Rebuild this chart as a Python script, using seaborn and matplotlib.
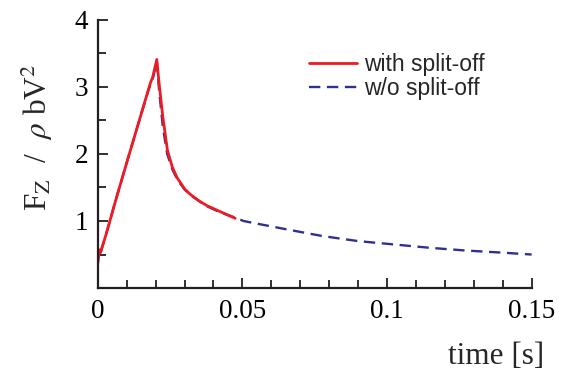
import numpy as np
import pandas as pd
import seaborn as sns
import matplotlib.pyplot as plt
from matplotlib.ticker import MultipleLocator

# with split-off (red, solid)
t_split = [0.0, 0.0005, 0.001, 0.0013, 0.003, 0.0062, 0.010, 0.014, 0.0175, 0.0182,
           0.019, 0.0204, 0.0212, 0.0225, 0.0241, 0.0258, 0.0275, 0.030, 0.0319,
           0.035, 0.0377, 0.0423, 0.0475]
f_split = [0.37, 0.57, 0.53, 0.58, 0.82, 1.31, 1.87, 2.45, 2.96, 3.06,
           3.15, 3.41, 3.05, 2.55, 2.05, 1.80, 1.64, 1.48, 1.40,
           1.30, 1.23, 1.14, 1.04]

# w/o split-off (blue, dashed)
t_nosplit = [0.0, 0.0005, 0.001, 0.0013, 0.003, 0.0062, 0.010, 0.014, 0.0175, 0.019,
             0.0204, 0.0212, 0.0225, 0.024, 0.0258, 0.0275, 0.030, 0.0319, 0.0377,
             0.0423, 0.0475, 0.0504, 0.0527, 0.0653, 0.0777, 0.090, 0.1024, 0.1148,
             0.127, 0.139, 0.15]
f_nosplit = [0.37, 0.57, 0.53, 0.58, 0.82, 1.31, 1.87, 2.45, 2.95, 3.12,
             3.38, 2.95, 2.40, 2.00, 1.77, 1.62, 1.47, 1.39, 1.22,
             1.13, 1.05, 1.00, 0.98, 0.875, 0.775, 0.70, 0.65, 0.60,
             0.56, 0.53, 0.50]

sns.set_style("ticks")
plt.rcParams['font.family'] = ['Liberation Serif', 'DejaVu Serif']
plt.rcParams['mathtext.fontset'] = 'stix'

ink = '#231f20'
fig = plt.figure(figsize=(5.62, 3.76), dpi=100)
ax = fig.add_axes([0.174, 0.234, 0.772, 0.713])

df1 = pd.DataFrame({'t': t_split, 'f': f_split})
df2 = pd.DataFrame({'t': t_nosplit, 'f': f_nosplit})
sns.lineplot(data=df2, x='t', y='f', ax=ax, color='#2e3192', lw=1.7,
             dashes=False, sort=False, estimator=None, label='w/o split-off',
             linestyle=(0, (4.8, 2.8)))
sns.lineplot(data=df1, x='t', y='f', ax=ax, color='#ed1c24', lw=2.0,
             sort=False, estimator=None, label='with split-off')

ax.set_xlim(0, 0.15)
ax.set_ylim(0, 4)
ax.set_xticks([0, 0.05, 0.1, 0.15])
ax.set_xticklabels(['0', '0.05', '0.1', '0.15'])
ax.set_yticks([0, 1, 2, 3, 4])
ax.set_yticklabels(['', '1', '2', '3', '4'])
ax.xaxis.set_minor_locator(MultipleLocator(0.01))
ax.yaxis.set_minor_locator(MultipleLocator(0.5))
ax.tick_params(which='both', direction='in', colors=ink, labelcolor='black',
               labelsize=19.5, width=1.3)
ax.tick_params(which='major', length=7.5)
ax.tick_params(which='minor', length=6)
ax.tick_params(axis='x', which='major', pad=8)
ax.tick_params(axis='y', which='major', pad=7)

sns.despine(ax=ax)
for s in ['left', 'bottom']:
    ax.spines[s].set_linewidth(1.6)
    ax.spines[s].set_color(ink)

ax.set_xlabel('time [s]', fontsize=22.5)
ax.xaxis.set_label_coords(0.918, -0.257)
ax.xaxis.label.set_va('center')
ax.set_ylabel(r'F$_\mathrm{Z}$  /  $\rho$ bV$^2$', fontsize=22.5)
ax.yaxis.set_label_coords(-0.14, 0.56)
ax.yaxis.label.set_va('center')

h, l = ax.get_legend_handles_labels()
leg = ax.legend(h[::-1], l[::-1], loc='upper left', frameon=False,
                bbox_to_anchor=(0.549, 0.859), bbox_transform=fig.transFigure,
                borderpad=0, borderaxespad=0, handlelength=2.1,
                handletextpad=0.3, labelspacing=0.05,
                prop={'family': ['Liberation Sans'], 'size': 16.5})

fig.savefig('out.png', dpi=100)
